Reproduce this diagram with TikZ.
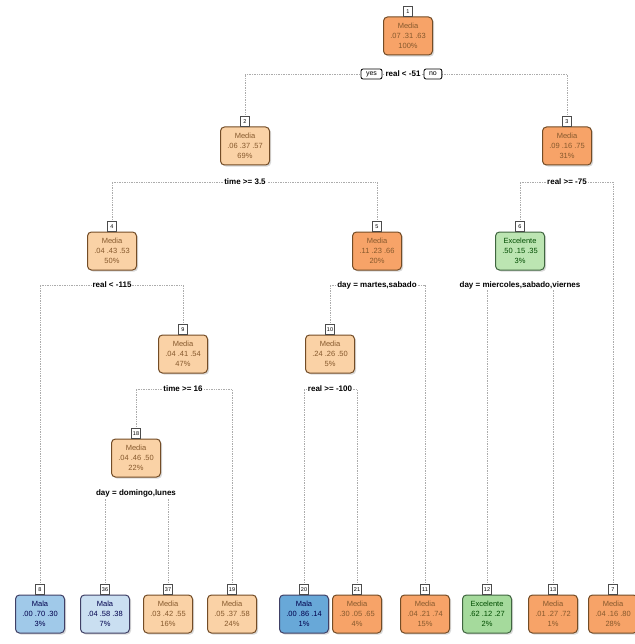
\documentclass[tikz,border=0pt]{standalone}
\usepackage{fontspec}
\setmainfont{Liberation Sans}
\usetikzlibrary{positioning,shadows,backgrounds}
\definecolor{medhi}{RGB}{247,163,104}
\definecolor{medlo}{RGB}{250,210,166}
\definecolor{malahi}{RGB}{104,168,216}
\definecolor{malamid}{RGB}{160,201,233}
\definecolor{malalo}{RGB}{202,223,241}
\definecolor{exchi}{RGB}{165,218,156}
\definecolor{exclo}{RGB}{188,229,178}
\tikzset{
  cell/.style={draw, rounded corners=4pt, line width=1pt, minimum width=49pt, minimum height=38pt, inner sep=1pt, align=center, font=\fontsize{7.5}{10}\selectfont, drop shadow={shadow xshift=1.6pt, shadow yshift=-1.6pt, opacity=0.3, fill=gray}},
  media/.style={cell, draw=brown!60!black, text=brown!70!black},
  mala/.style={cell, draw=blue!20!black!75, text=blue!30!black},
  excel/.style={cell, draw=green!20!black!75, text=green!30!black},
  tab/.style={draw=gray!60!black, fill=white, minimum width=9.5pt, minimum height=9.5pt, inner sep=0pt, line width=0.7pt, font=\fontsize{5.5}{5.5}\selectfont, above=0pt},
  split/.style={font=\bfseries\fontsize{8}{8}\selectfont, fill=white, inner sep=1pt},
  yesno/.style={draw, rounded corners=2pt, line width=0.8pt, minimum height=10pt, inner xsep=5pt, inner ysep=1.5pt, font=\fontsize{7}{7}\selectfont, fill=white},
  link/.style={densely dotted, gray!65, line width=0.7pt}
}
\begin{document}
\begin{tikzpicture}[x=1pt, y=-1pt]
  \useasboundingbox (0,0) rectangle (634,644);
  % inner nodes
  \node [media, fill=medhi] (n1) at (408,36) {Media\\.07 .31 .63\\100\%};
  \node [media, fill=medlo] (n2) at (245,146) {Media\\.06 .37 .57\\69\%};
  \node [media, fill=medhi] (n3) at (567,146) {Media\\.09 .16 .75\\31\%};
  \node [media, fill=medlo] (n4) at (112,251) {Media\\.04 .43 .53\\50\%};
  \node [media, fill=medhi] (n5) at (377,251) {Media\\.11 .23 .66\\20\%};
  \node [excel, fill=exclo] (n6) at (520,251) {Excelente\\.50 .15 .35\\3\%};
  \node [media, fill=medlo] (n9) at (183,354) {Media\\.04 .41 .54\\47\%};
  \node [media, fill=medlo] (n10) at (330,354) {Media\\.24 .26 .50\\5\%};
  \node [media, fill=medlo] (n18) at (136,458) {Media\\.04 .46 .50\\22\%};
  % leaves
  \node [mala, fill=malamid] (n8) at (40,614) {Mala\\.00 .70 .30\\3\%};
  \node [mala, fill=malalo] (n36) at (105,614) {Mala\\.04 .58 .38\\7\%};
  \node [media, fill=medlo] (n37) at (168,614) {Media\\.03 .42 .55\\16\%};
  \node [media, fill=medlo] (n19) at (232,614) {Media\\.05 .37 .58\\24\%};
  \node [mala, fill=malahi] (n20) at (304,614) {Mala\\.00 .86 .14\\1\%};
  \node [media, fill=medhi] (n21) at (357,614) {Media\\.30 .05 .65\\4\%};
  \node [media, fill=medhi] (n11) at (425,614) {Media\\.04 .21 .74\\15\%};
  \node [excel, fill=exchi] (n12) at (487,614) {Excelente\\.62 .12 .27\\2\%};
  \node [media, fill=medhi] (n13) at (553,614) {Media\\.01 .27 .72\\1\%};
  \node [media, fill=medhi] (n7) at (613,614) {Media\\.04 .16 .80\\28\%};
  % node numbers
  \foreach \k in {1,2,3,4,5,6,7,8,9,10,11,12,13,18,19,20,21,36,37}
    \node [tab] (t\k) at (n\k.north) {\k};
  % splits
  \node [split] (s1) at (403,74) {real < -51};
  \node [yesno, left=2pt of s1] (yes) {yes};
  \node [yesno, right=2pt of s1] (no) {no};
  \node [split] (s2) at (245,182) {time >= 3.5};
  \node [split] (s3) at (567,182) {real >= -75};
  \node [split] (s4) at (112,285) {real < -115};
  \node [split] (s5) at (377,285) {day = martes,sabado};
  \node [split] (s6) at (520,285) {day = miercoles,sabado,viernes};
  \node [split] (s9) at (183,389) {time >= 16};
  \node [split] (s10) at (330,389) {real >= -100};
  \node [split] (s18) at (136,493) {day = domingo,lunes};
  % links
  \begin{scope}[on background layer]
    \draw [link] (t2.north) |- (s1.center);
    \draw [link] (t3.north) |- (s1.center);
    \draw [link] (t4.north) |- (s2.center);
    \draw [link] (t5.north) |- (s2.center);
    \draw [link] (t6.north) |- (s3.center);
    \draw [link] (t7.north) |- (s3.center);
    \draw [link] (t8.north) |- (s4.center);
    \draw [link] (t9.north) |- (s4.center);
    \draw [link] (t10.north) |- (s5.center);
    \draw [link] (t11.north) |- (s5.center);
    \draw [link] (t12.north) |- (s6.center);
    \draw [link] (t13.north) |- (s6.center);
    \draw [link] (t18.north) |- (s9.center);
    \draw [link] (t19.north) |- (s9.center);
    \draw [link] (t20.north) |- (s10.center);
    \draw [link] (t21.north) |- (s10.center);
    \draw [link] (t36.north) |- (s18.center);
    \draw [link] (t37.north) |- (s18.center);
  \end{scope}
\end{tikzpicture}
\end{document}
